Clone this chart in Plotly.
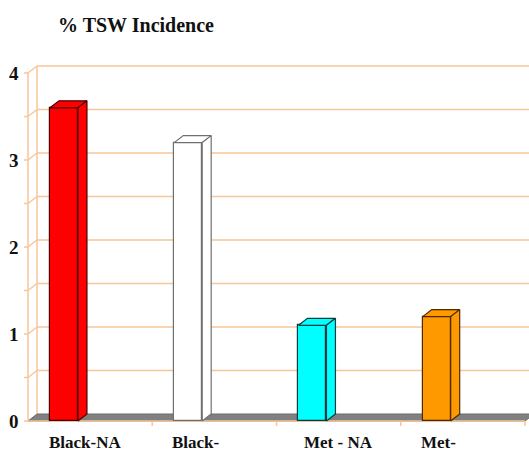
import plotly.graph_objects as go

# ---- data ----
categories = ["Black-NA", "Black-", "Met - NA", "Met-"]
incidence = [3.6, 3.2, 1.1, 1.2]
y_ticks = [0, 1, 2, 3, 4]
title_text = "% TSW Incidence"

# ---- styling ----
face_colors = ["#FF0000", "#FFFFFF", "#00FFFF", "#FF9900"]
edge_colors = ["#4a0000", "#707070", "#0b3b3b", "#4a2a00"]
label_offsets = [0.46, 0.35, 0.50, 0.30]   # label centre within each category slot
GRID = "#F7C69A"
FLOOR = "#808080"
FONT = "'Times New Roman', 'Liberation Serif', 'DejaVu Serif', serif"

W, H = 529, 451
UX, UY = 124.25, 87.0          # pixels per category / per y unit
X0_PX, Y0_PX = 28, 421          # front origin in pixels
x_range = [-X0_PX / UX, (W - X0_PX) / UX]
y_range = [-(H - Y0_PX) / UY, Y0_PX / UY]
DX, DY = 9 / UX, 7 / UY         # depth offset of the 3-D box
BAR_OFF, BAR_W = 0.177, 0.225
TICK = 4 / UX
y_max = max(y_ticks)
n = len(categories)

shapes = []


def seg(x0, y0, x1, y1, color=GRID, width=1.5):
    shapes.append(dict(type="line", xref="x", yref="y", x0=x0, y0=y0, x1=x1, y1=y1,
                       line=dict(color=color, width=width), layer="below"))


# back wall gridlines with their diagonals on the side wall, plus front axis ticks
steps = [k * 0.5 for k in range(1, int(y_max * 2) + 1)]
for v in steps:
    seg(DX, v + DY, x_range[1] + 0.1, v + DY)
    seg(0, v, DX, v + DY)
    seg(-TICK, v, 0, v)
seg(DX, DY, DX, y_max + DY)
seg(0, 0, 0, y_max)
seg(-TICK, 0, 0, 0)

# floor
shapes.append(dict(type="path", xref="x", yref="y", layer="below",
                   path=f"M 0 0 L {n} 0 L {n + DX} {DY} L {DX} {DY} Z",
                   fillcolor=FLOOR, line=dict(color="#6a6a6a", width=1)))
# front category axis with slot ticks
seg(0, 0, n, 0)
for i in range(1, n + 1):
    seg(i, 0, i, -5 / UY)

fig = go.Figure()

# front faces of the columns
fig.add_trace(go.Bar(
    x=[i + BAR_OFF + BAR_W / 2 for i in range(n)],
    y=incidence,
    width=BAR_W,
    marker=dict(color=face_colors, line=dict(color=edge_colors, width=1.2)),
    hoverinfo="skip",
))

# top and side faces of the columns
for i, (v, fc, ec) in enumerate(zip(incidence, face_colors, edge_colors)):
    xl = i + BAR_OFF
    xr = xl + BAR_W
    fig.add_trace(go.Scatter(
        x=[xl, xr, xr + DX, xl + DX, xl], y=[v, v, v + DY, v + DY, v],
        mode="lines", fill="toself", fillcolor=fc,
        line=dict(color=ec, width=1.2), hoverinfo="skip"))
    fig.add_trace(go.Scatter(
        x=[xr, xr + DX, xr + DX, xr, xr], y=[0, DY, v + DY, v, 0],
        mode="lines", fill="toself", fillcolor=fc,
        line=dict(color=ec, width=1.2), hoverinfo="skip"))

annotations = []
for t in y_ticks:
    annotations.append(dict(x=-7 / UX, y=t, xref="x", yref="y", text=f"<b>{t}</b>",
                            showarrow=False, xanchor="right", yanchor="middle",
                            font=dict(family=FONT, size=19, color="#111")))
for i, (c, off) in enumerate(zip(categories, label_offsets)):
    annotations.append(dict(x=i + off, y=-21 / UY, xref="x", yref="y", text=f"<b>{c}</b>",
                            showarrow=False, xanchor="center", yanchor="middle",
                            height=18, valign="middle", borderpad=0,
                            font=dict(family=FONT, size=17, color="#111")))
annotations.append(dict(x=136 / W, y=1 - 25 / H, xref="paper", yref="paper",
                        text=f"<b>{title_text}</b>", showarrow=False,
                        xanchor="center", yanchor="middle",
                        font=dict(family=FONT, size=20, color="#111")))

fig.update_layout(
    width=W, height=H,
    margin=dict(l=0, r=0, t=0, b=0),
    paper_bgcolor="white", plot_bgcolor="white",
    showlegend=False,
    shapes=shapes,
    annotations=annotations,
    xaxis=dict(range=x_range, visible=False, fixedrange=True),
    yaxis=dict(range=y_range, visible=False, fixedrange=True),
    bargap=0,
)

fig.write_html("out.html")
